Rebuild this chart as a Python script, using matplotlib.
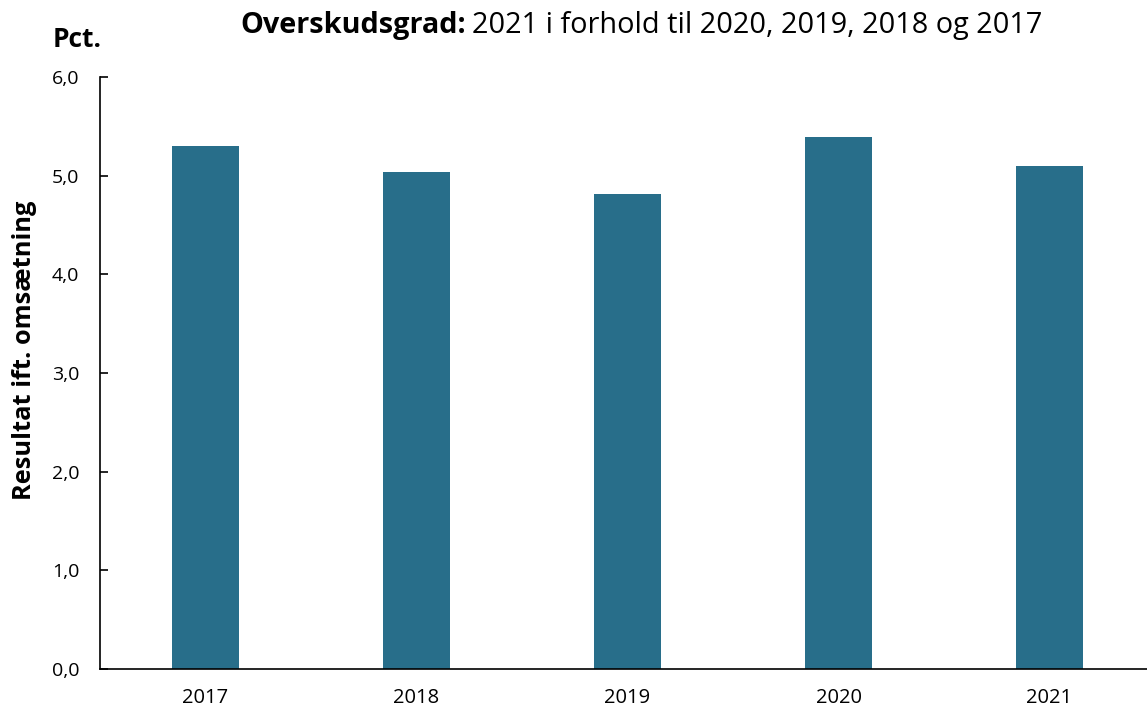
import matplotlib
matplotlib.use("Agg")
import matplotlib.pyplot as plt
from matplotlib.ticker import FuncFormatter

# Data
aar = ["2017", "2018", "2019", "2020", "2021"]
overskudsgrad = [5.30, 5.04, 4.81, 5.39, 5.10]

plt.rcParams['font.family'] = ['Open Sans', 'DejaVu Sans']

fig = plt.figure(figsize=(11.47, 7.07), dpi=100)
ax = fig.add_axes([100 / 1147, 1 - 669 / 707, 1 - 100 / 1147, (669 - 77) / 707])

x = range(len(aar))
ax.bar(x, overskudsgrad, width=0.313, color='#286E8A')
ax.set_xticks(list(x))
ax.set_xticklabels(aar)
ax.set_xlim(-0.5, 4.462)
ax.set_ylim(0, 6)
ax.set_yticks([0, 1, 2, 3, 4, 5, 6])
ax.yaxis.set_major_formatter(FuncFormatter(lambda v, p: f"{v:.1f}".replace('.', ',')))

for s in ['top', 'right']:
    ax.spines[s].set_visible(False)
ax.spines['left'].set_linewidth(1.2)
ax.spines['bottom'].set_linewidth(1.2)
ax.tick_params(axis='y', direction='in', length=6, width=1.2, labelsize=14, pad=15)
ax.tick_params(axis='x', length=0, labelsize=14.5, pad=14)

ax.set_ylabel("Resultat ift. omsætning", fontsize=18.3, fontweight='bold')
ax.yaxis.set_label_coords(-63 / 1047, (669 - 350) / 592)

fig.text(53 / 1147, 1 - 47 / 707, "Pct.", fontsize=19, fontweight='bold', ha='left', va='baseline')

# Titel: fed del + normal del
t1 = fig.text(240 / 1147, 1 - 33 / 707, "Overskudsgrad:", fontsize=20.8, fontweight='bold', ha='left', va='baseline')
fig.canvas.draw()
bb = t1.get_window_extent()
fig.text((bb.x1 + 6) / 1147, 1 - 33 / 707, "2021 i forhold til 2020, 2019, 2018 og 2017",
         fontsize=20.8, ha='left', va='baseline')

fig.savefig("out.png", dpi=100)
